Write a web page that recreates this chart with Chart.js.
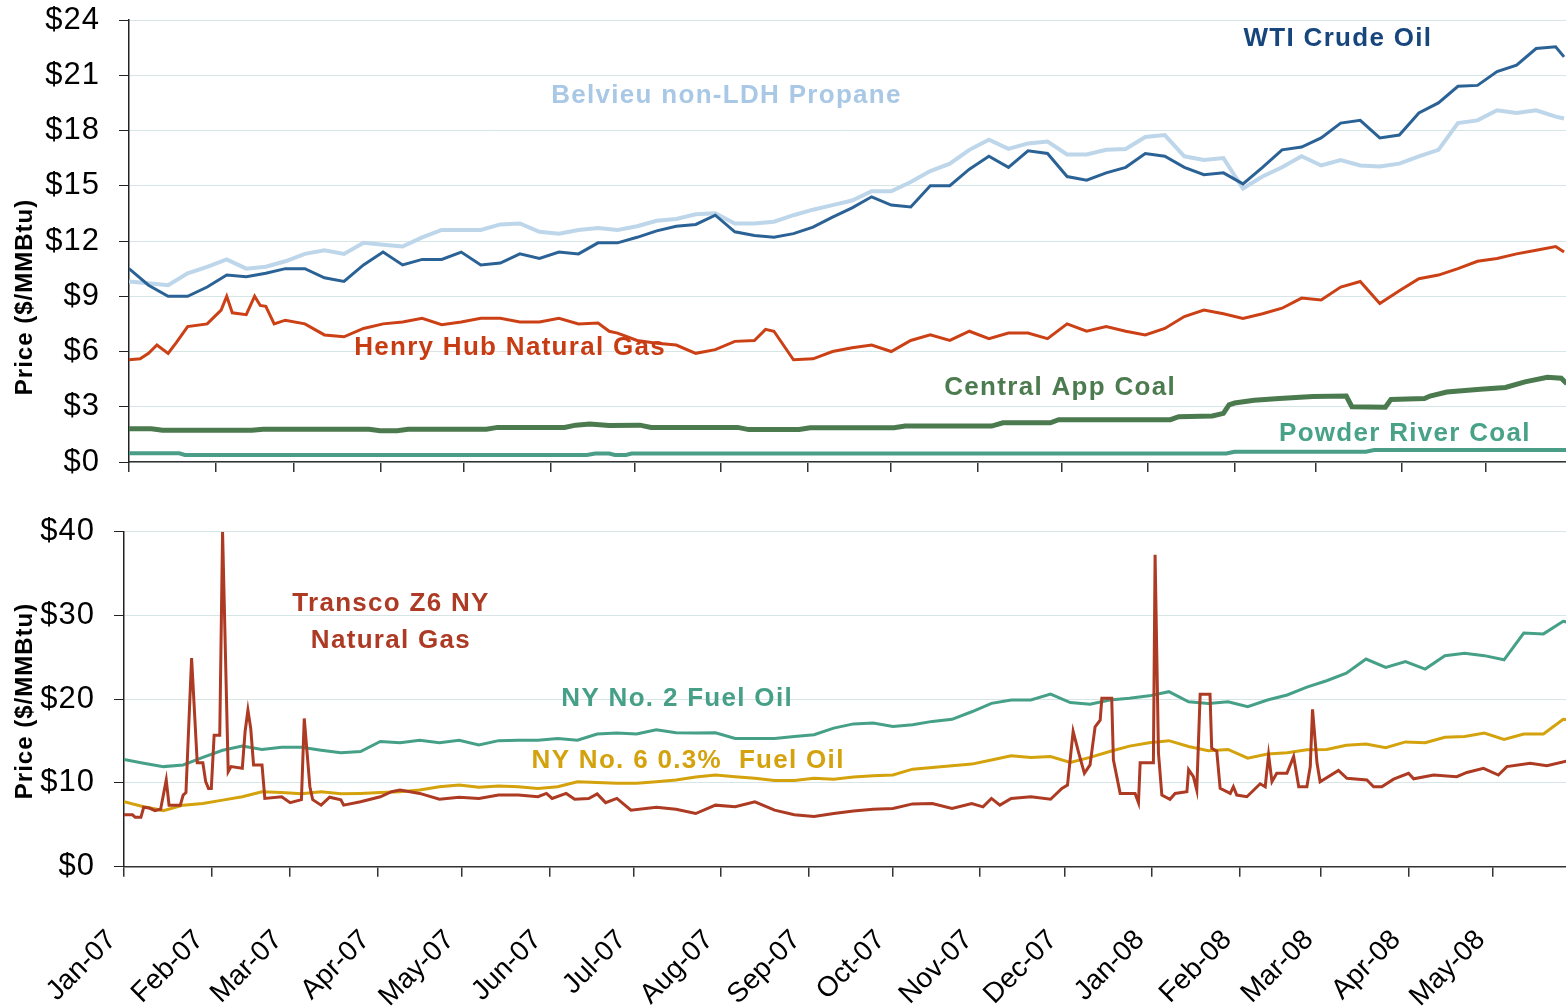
<!DOCTYPE html>
<html>
<head>
<meta charset="utf-8">
<title>Energy prices</title>
<script src="https://cdn.jsdelivr.net/npm/chart.js@4.4.1/dist/chart.umd.min.js"></script>
<style>
  body { margin: 0; background: #fff; }
  canvas { position: absolute; left: 0; }
  #top { top: 0; }
  #bottom { top: 480px; }
</style>
</head>
<body>
<canvas id="top" width="1566" height="480"></canvas>
<canvas id="bottom" width="1566" height="527"></canvas>
<script>
// x values are days since 1 Jan 2007
const monthDays = [0, 31, 59, 90, 120, 151, 181, 212, 243, 273, 304, 334, 365, 396, 425, 456, 486];
const monthLabels = ["Jan-07", "Feb-07", "Mar-07", "Apr-07", "May-07", "Jun-07", "Jul-07", "Aug-07", "Sep-07",
  "Oct-07", "Nov-07", "Dec-07", "Jan-08", "Feb-08", "Mar-08", "Apr-08", "May-08"];

// weekly sample days
const weekDays = [0, 7, 14, 21, 28, 35, 42, 49, 56, 63, 70, 77, 84, 91, 98, 105, 112, 119, 126, 133,
  140, 147, 154, 161, 168, 175, 182, 189, 196, 203, 210, 217, 224, 231, 238, 245, 252, 259, 266, 273,
  280, 287, 294, 301, 308, 315, 322, 329, 336, 343, 350, 357, 364, 371, 378, 385, 392, 399, 406, 413,
  420, 427, 434, 441, 448, 455, 462, 469, 476, 483, 490, 497, 504, 511, 514];

// top panel
const wtiPrice = [10.5, 9.6, 9.0, 9.0, 9.5, 10.15, 10.06, 10.25, 10.5, 10.5,
  10.0, 9.8, 10.7, 11.4, 10.7, 11.0, 11.0, 11.4, 10.7, 10.8,
  11.3, 11.05, 11.4, 11.3, 11.9,
  11.9, 12.2, 12.55, 12.8, 12.9, 13.4, 12.5, 12.3, 12.2, 12.4,
  12.75, 13.3, 13.8, 14.4, 13.95, 13.85, 15.0, 15.0, 15.9, 16.6,
  16.0, 16.9, 16.75, 15.5,
  15.3, 15.7, 16.0, 16.75, 16.6, 16.0, 15.6, 15.7, 15.1, 16.0,
  16.95, 17.1, 17.6, 18.4, 18.55, 17.6, 17.75, 18.95, 19.5, 20.4,
  20.45, 21.2, 21.55, 22.45, 22.55, 22.0];

const propanePrice = [9.8, 9.7, 9.6, 10.25, 10.6, 11.0, 10.5, 10.6, 10.9, 11.3,
  11.5, 11.3, 11.9, 11.8, 11.7, 12.2, 12.6, 12.6, 12.6, 12.9,
  12.95, 12.5, 12.4, 12.6, 12.7,
  12.6, 12.8, 13.1, 13.2, 13.45, 13.5, 12.95, 12.95, 13.05, 13.4,
  13.7, 13.95, 14.2, 14.7, 14.7, 15.2, 15.8, 16.2, 16.95, 17.5,
  17.0, 17.3, 17.4, 16.7,
  16.7, 16.95, 17.0, 17.65, 17.75, 16.6, 16.4, 16.5, 14.85, 15.5,
  16.0, 16.6, 16.1, 16.4, 16.1, 16.05, 16.2, 16.6, 16.95, 18.4,
  18.55, 19.1, 18.95, 19.1, 18.75, 18.65];

const henryDays = [0, 4, 7, 10, 14, 17, 21, 28, 33, 35,
  37, 42, 45, 47, 49, 52, 56, 63, 70, 77,
  84, 91, 98, 105, 112, 119, 126, 133, 140, 147,
  154, 161, 168, 172, 175, 182, 189, 196, 203, 210,
  217, 224, 228, 231, 238, 245, 252, 259, 266, 273,
  280, 287, 294, 301, 308, 315, 322, 329, 336, 343,
  350, 357, 364, 371, 378, 385, 392, 399, 406, 413,
  420, 427, 434, 441, 448, 455, 462, 469, 476, 483,
  490, 497, 504, 511, 514];
const henryPrice = [5.55, 5.6, 5.9, 6.35, 5.9, 6.5, 7.35, 7.5, 8.25, 9.0,
  8.1, 8.0, 9.0, 8.5, 8.45, 7.5, 7.7, 7.5, 6.9, 6.8,
  7.25, 7.5, 7.6, 7.8, 7.45, 7.6, 7.8, 7.8, 7.6, 7.6,
  7.8, 7.5, 7.55, 7.1, 7.0, 6.6, 6.45, 6.35, 5.9, 6.1,
  6.55, 6.6, 7.2, 7.1, 5.55, 5.6, 6.0, 6.2, 6.35, 6.0,
  6.6, 6.9, 6.6, 7.1, 6.7, 7.0, 7.0, 6.7, 7.5, 7.1,
  7.35, 7.1, 6.9, 7.25, 7.9, 8.25, 8.05, 7.8, 8.05, 8.35,
  8.9, 8.8, 9.5, 9.8, 8.6, 9.3, 9.95, 10.15, 10.5, 10.9,
  11.05, 11.3, 11.5, 11.7, 11.4];

const cappDays = [0, 8, 12, 44, 48, 86, 90, 96, 100, 128,
  132, 156, 160, 165, 172, 183, 187, 218, 222, 240,
  244, 274, 278, 309, 313, 330, 333, 373, 376, 388,
  392, 394, 396, 403, 412, 424, 436, 438, 450, 452,
  464, 466, 472, 484, 493, 500, 508, 513, 515];
const cappPrice = [1.8, 1.8, 1.72, 1.72, 1.78, 1.78, 1.7, 1.7, 1.78, 1.78,
  1.88, 1.88, 2.0, 2.06, 1.98, 2.0, 1.88, 1.88, 1.76, 1.76,
  1.86, 1.86, 1.95, 1.95, 2.13, 2.13, 2.3, 2.3, 2.46, 2.5,
  2.64, 3.1, 3.2, 3.35, 3.45, 3.55, 3.58, 3.0, 2.97, 3.4,
  3.45, 3.58, 3.8, 3.95, 4.05, 4.35, 4.6, 4.55, 4.25];

const powderDays = [0, 18, 20, 164, 167, 172, 174, 178, 180, 393, 396, 443, 446, 515];
const powderPrice = [0.47, 0.47, 0.38, 0.38, 0.46, 0.46, 0.38, 0.38, 0.46, 0.46, 0.56, 0.56, 0.65, 0.65];

// bottom panel
const transcoDays = [0, 3, 4, 6, 7, 9, 11, 13, 15, 16,
  20, 21, 22, 24, 26, 28, 29, 30, 31, 32,
  34, 35, 37, 38, 42, 43, 44, 45, 46, 49,
  50, 56, 59, 63, 64, 66, 67, 70, 73, 77,
  78, 84, 91, 95, 98, 105, 112, 119, 126, 133,
  140, 147, 150, 152, 157, 160, 165, 168, 171, 175,
  180, 189, 196, 203, 210, 217, 224, 231, 238, 245,
  252, 259, 266, 273, 280, 287, 294, 301, 305, 308,
  311, 315, 322, 329, 333, 335, 337, 339, 341, 343,
  344.8, 346.6, 347.2, 350.7, 351.3, 353.7, 359, 360.2, 360.8, 365.5,
  366.1, 367.3, 368.5, 371.4, 373.2, 377.4, 378, 379.7, 380.9, 382.1,
  385.6, 386.2, 388, 389.2, 392.8, 393.9, 395.1, 398.7, 403.4, 405.2,
  406.4, 407.6, 409.3, 412.9, 415.3, 417.1, 420, 421.2, 422, 423.6,
  424.7, 431.2, 434.2, 441.3, 443.7, 446.6, 450.8, 456.1, 457.9, 465,
  473.2, 476.8, 482.7, 488, 491, 499.3, 505.2, 514];
const transcoPrice = [6.2, 6.2, 5.9, 5.9, 7.1, 7.0, 6.7, 6.85, 10.35, 7.35,
  7.35, 8.55, 8.85, 24.9, 12.4, 12.4, 10.15, 9.35, 9.35, 15.7,
  15.7, 40, 11.35, 11.95, 11.75, 16.15, 18.7, 16.5, 12.15, 12.15,
  8.15, 8.35, 7.65, 8.0, 17.7, 9.55, 8.0, 7.35, 8.3, 8.0,
  7.35, 7.75, 8.35, 8.95, 9.15, 8.75, 8.05, 8.3, 8.15, 8.55,
  8.55, 8.35, 8.75, 8.15, 8.75, 8.05, 8.15, 8.7, 7.65, 8.15,
  6.75, 7.1, 6.85, 6.35, 7.35, 7.15, 7.75, 6.75, 6.2, 6.0,
  6.35, 6.65, 6.85, 6.95, 7.5, 7.55, 6.95, 7.55, 7.15, 8.15,
  7.35, 8.15, 8.35, 8.05, 9.35, 9.75, 16.15, 13.55, 11.15, 12.15,
  16.7, 17.5, 20.1, 20.1, 12.75, 8.75, 8.75, 7.65, 12.4, 12.4,
  37.25, 13.55, 8.55, 8.05, 8.75, 8.95, 11.6, 10.75, 9.15, 20.6,
  20.6, 14.15, 13.8, 9.35, 8.75, 9.55, 8.55, 8.35, 9.9, 9.55,
  13.35, 10.15, 11.15, 11.15, 13.15, 9.55, 9.55, 11.95, 18.8, 12.35,
  10.15, 11.5, 10.55, 10.35, 9.55, 9.55, 10.45, 11.15, 10.5, 10.95,
  10.75, 11.25, 11.75, 10.95, 11.95, 12.35, 12.05, 12.75];

const no2Price = [12.8, 12.35, 11.95, 12.15, 13.05, 13.9, 14.4, 14.0, 14.25, 14.25,
  13.9, 13.6, 13.75, 14.95, 14.8, 15.1, 14.8, 15.1, 14.55, 15.05,
  15.1, 15.1, 15.3, 15.1, 15.85,
  15.95, 15.85, 16.35, 16.0, 15.95, 16.0, 15.3, 15.3, 15.3, 15.55,
  15.75, 16.55, 17.05, 17.15, 16.75, 16.95, 17.35, 17.6, 18.5, 19.5,
  19.9, 19.9, 20.6, 19.6,
  19.4, 19.9, 20.1, 20.4, 20.9, 19.7, 19.5, 19.7, 19.1, 19.9,
  20.5, 21.45, 22.2, 23.1, 24.8, 23.8, 24.5, 23.6, 25.2, 25.5,
  25.2, 24.7, 27.9, 27.8, 29.3, 29.1];

const no6Price = [7.75, 7.15, 6.7, 7.35, 7.55, 7.95, 8.35, 8.95, 8.85, 8.7,
  8.95, 8.7, 8.75, 8.85, 8.95, 9.15, 9.55, 9.75, 9.5, 9.65,
  9.55, 9.35, 9.55, 10.15, 10.05,
  9.95, 9.95, 10.15, 10.35, 10.7, 10.95, 10.75, 10.55, 10.3, 10.3,
  10.55, 10.45, 10.7, 10.85, 10.95, 11.65, 11.85, 12.05, 12.25, 12.75,
  13.25, 13.05, 13.15, 12.45,
  13.05, 13.75, 14.4, 14.8, 15.05, 14.35, 13.85, 14.0, 12.95, 13.45,
  13.6, 13.95, 14.0, 14.5, 14.65, 14.2, 14.9, 14.8, 15.45, 15.55,
  15.95, 15.2, 15.85, 15.85, 17.6, 17.5];

const FONT = "'Liberation Sans', Arial, sans-serif";
Chart.defaults.font.family = FONT;
Chart.defaults.color = "#000";

function points(days, values) {
  return days.map((d, i) => ({ x: d, y: values[i] }));
}

function line(label, days, values, color, width) {
  return {
    label: label,
    data: points(days, values),
    borderColor: color,
    borderWidth: width,
    pointRadius: 0,
    tension: 0,
    fill: false
  };
}

// series names and y axis title, spaced text drawn on top
function makeTextPlugin(items, titleX, titleY) {
  return {
    id: "textLayer",
    beforeDraw(chart) { chart.ctx.letterSpacing = "1px"; },
    beforeDatasetsDraw(chart) { chart.ctx.letterSpacing = "0px"; },
    afterDraw(chart) {
      const ctx = chart.ctx;
      const xs = chart.scales.x, ys = chart.scales.y;
      ctx.save();
      ctx.letterSpacing = "1.3px";
      ctx.font = "bold 26px " + FONT;
      ctx.textAlign = "center";
      ctx.textBaseline = "middle";
      for (const it of items) {
        ctx.fillStyle = it.color;
        ctx.fillText(it.text, xs.getPixelForValue(it.day), ys.getPixelForValue(it.value));
      }
      ctx.letterSpacing = "1px";
      ctx.font = "bold 24px " + FONT;
      ctx.fillStyle = "#000";
      ctx.translate(titleX, titleY);
      ctx.rotate(-Math.PI / 2);
      ctx.fillText("Price ($/MMBtu)", 0, 0);
      ctx.restore();
      ctx.letterSpacing = "0px";
    }
  };
}

function panelOptions(cfg) {
  return {
    responsive: false,
    animation: false,
    devicePixelRatio: 1,
    layout: { padding: { left: 0, right: 0, top: cfg.top, bottom: 0 } },
    plugins: { legend: { display: false }, tooltip: { enabled: false } },
    scales: {
      x: {
        type: "linear",
        min: 0,
        max: cfg.xMax,
        afterBuildTicks: (s) => { s.ticks = monthDays.map((v) => ({ value: v })); },
        afterFit: (s) => { s.height = cfg.xHeight; s.paddingLeft = 0; s.paddingRight = 0; },
        grid: { drawOnChartArea: false, drawTicks: true, tickLength: 10, tickColor: "#333", lineWidth: 1.5 },
        border: { color: "#333", width: 1.5 },
        ticks: {
          display: cfg.xLabels,
          z: 1,
          autoSkip: false,
          minRotation: 45,
          maxRotation: 45,
          padding: 47,
          labelOffset: -12,
          font: { size: 28 },
          callback: (v, i) => monthLabels[i]
        }
      },
      y: {
        min: 0,
        max: cfg.yMax,
        afterFit: (s) => { s.width = cfg.yWidth; s.paddingTop = 0; s.paddingBottom = 0; },
        grid: { color: "#d6e6e6", lineWidth: 1, tickColor: "#222", tickLength: 10 },
        border: { color: "#222", width: 1.5 },
        ticks: {
          stepSize: cfg.yStep,
          padding: 19,
          font: { size: 31 },
          callback: (v) => "$" + v
        }
      }
    }
  };
}

new Chart(document.getElementById("top"), {
  type: "line",
  data: {
    datasets: [
      line("WTI Crude Oil", weekDays, wtiPrice, "#2b6296", 3),
      line("Belvieu non-LDH Propane", weekDays, propanePrice, "#bdd6ea", 4),
      line("Henry Hub Natural Gas", henryDays, henryPrice, "#cc4016", 3),
      line("Central App Coal", cappDays, cappPrice, "#4c7a4f", 5),
      line("Powder River Coal", powderDays, powderPrice, "#4a9e87", 4)
    ]
  },
  options: panelOptions({ top: 20, xMax: 514.7, xHeight: 18, xLabels: false, yMax: 24, yStep: 3, yWidth: 129 }),
  plugins: [makeTextPlugin([
    { text: "WTI Crude Oil", day: 433, value: 23.0, color: "#17467c" },
    { text: "Belvieu non-LDH Propane", day: 214, value: 19.87, color: "#a8c8e6" },
    { text: "Henry Hub Natural Gas", day: 136.5, value: 6.2, color: "#c83c14" },
    { text: "Central App Coal", day: 333.5, value: 4.02, color: "#4b7b4f" },
    { text: "Powder River Coal", day: 457, value: 1.52, color: "#47a287" }
  ], 25, 297)]
});

new Chart(document.getElementById("bottom"), {
  type: "line",
  data: {
    datasets: [
      line("Transco Z6 NY Natural Gas", transcoDays, transcoPrice, "#ad3a22", 3),
      line("NY No. 2 Fuel Oil", weekDays, no2Price, "#45a087", 3),
      line("NY No. 6 0.3% Fuel Oil", weekDays, no6Price, "#d4a20c", 3)
    ]
  },
  options: panelOptions({ top: 51.7, xMax: 512, xHeight: 140.3, xLabels: true, yMax: 40, yStep: 10, yWidth: 124 }),
  plugins: [makeTextPlugin([
    { text: "Transco Z6 NY", day: 94.8, value: 31.37, color: "#ad3a24" },
    { text: "Natural Gas", day: 94.8, value: 26.95, color: "#ad3a24" },
    { text: "NY No. 2 Fuel Oil", day: 196.4, value: 20.0, color: "#45a087" },
    { text: "NY No. 6 0.3%  Fuel Oil", day: 200.3, value: 12.6, color: "#d4a20c" }
  ], 25, 221)]
});
</script>
</body>
</html>
